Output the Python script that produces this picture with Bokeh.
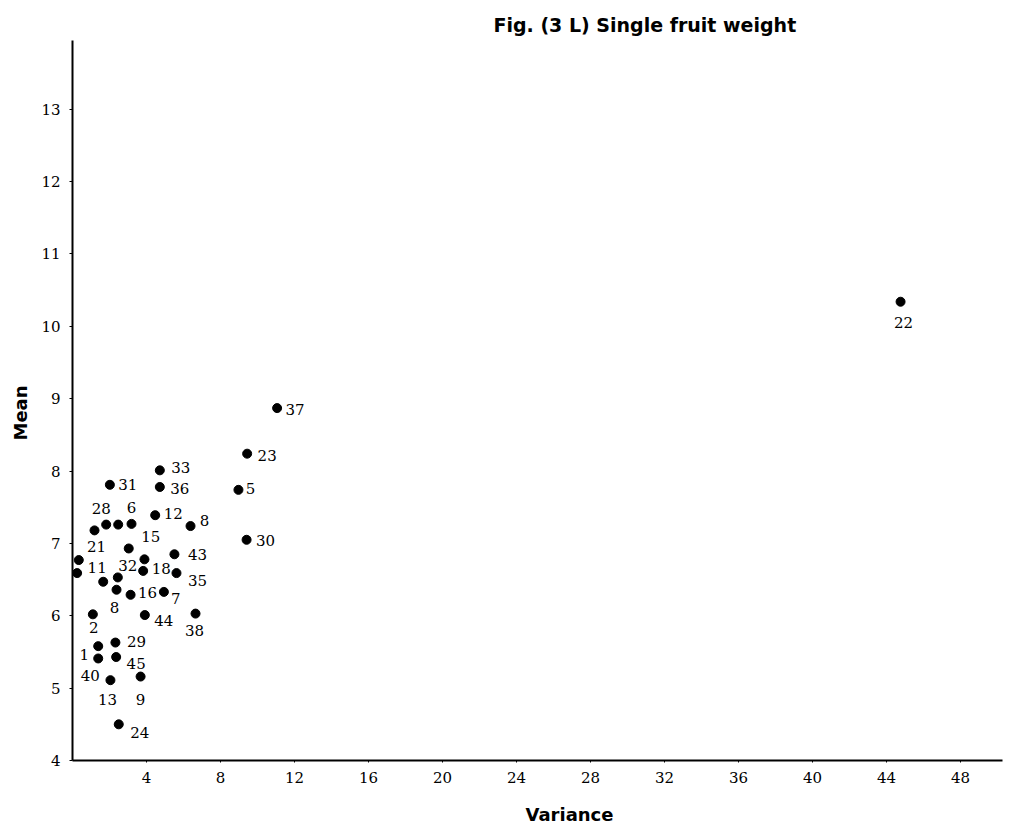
from bokeh.plotting import figure
from bokeh.models import ColumnDataSource, FixedTicker, Range1d, Title
from bokeh.embed import file_html
from bokeh.resources import INLINE
from bokeh.core.properties import value

# ---- data ----
genotype = ["37", "23", "33", "31", "36", "5", "12", "8", "6", "28", "", "21",
            "30", "15", "", "11", "", "43", "18", "35", "", "32", "8", "16",
            "7", "2", "44", "38", "29", "1", "40", "45", "13", "9", "24", "22"]
variance = [11.06, 9.44, 4.72, 2.02, 4.72, 8.97, 4.47, 6.38, 3.19, 1.82, 2.47, 1.19,
            9.41, 3.04, 0.34, 0.25, 3.89, 5.51, 3.82, 5.62, 1.66, 2.45, 2.38, 3.14,
            4.94, 1.10, 3.91, 6.65, 2.32, 1.39, 1.39, 2.36, 2.05, 3.68, 2.50, 44.76]
mean = [8.87, 8.24, 8.01, 7.81, 7.78, 7.74, 7.39, 7.24, 7.27, 7.26, 7.26, 7.18,
        7.05, 6.93, 6.77, 6.59, 6.78, 6.85, 6.62, 6.59, 6.47, 6.53, 6.36, 6.29,
        6.33, 6.02, 6.01, 6.03, 5.63, 5.58, 5.41, 5.43, 5.11, 5.16, 4.50, 10.34]
# label placement relative to each dot (pixels)
label_dx = [18, 20, 21, 18, 20, 12, 18, 14, 0, -5, 0, 2,
            19, 22, 0, 20, 0, 23, 18, 21, 0, 10, -2, 17,
            12, 1, 19, -1, 21, -14, -8, 20, -3, 0, 21, 3]
label_dy = [1, 2, -3, 0, 2, -1, -2, -6, -16, -16, 0, 16,
            1, -12, 0, -6, 0, 0, -2, 7, 0, -12, 18, -2,
            7, 13, 5, 17, -1, 8, 17, 6, 19, 23, 8, 21]

x_ticks = [4, 8, 12, 16, 20, 24, 28, 32, 36, 40, 44, 48]
y_ticks = [4, 5, 6, 7, 8, 9, 10, 11, 12, 13]

title_text = "Fig. (3 L)  Single fruit weight"
x_title = "Variance"
y_title = "Mean"

src = ColumnDataSource(dict(variance=variance, mean=mean, genotype=genotype,
                            dx=label_dx, dy=label_dy))

p = figure(width=1009, height=840, output_backend="svg", toolbar_location=None,
           x_range=Range1d(0, 50.27), y_range=Range1d(4.0, 13.95),
           min_border_left=72, min_border_right=7, min_border_top=40,
           min_border_bottom=80, background_fill_color="white",
           border_fill_color="white")
p.outline_line_color = None
p.grid.visible = False

p.scatter(x="variance", y="mean", size=9, color="black", source=src)
p.text(x="variance", y="mean", text="genotype", x_offset="dx", y_offset="dy",
       text_align="center", text_baseline="middle",
       text_font=value("DejaVu Serif"), text_font_size="15px",
       text_color="black", source=src)

p.xaxis.ticker = FixedTicker(ticks=x_ticks)
p.yaxis.ticker = FixedTicker(ticks=y_ticks)
for ax in (p.xaxis, p.yaxis):
    ax.axis_line_width = 2
    ax.axis_line_color = "black"
    ax.major_tick_line_color = "black"
    ax.minor_tick_line_color = None
    ax.major_label_text_font = "DejaVu Serif"
    ax.major_label_text_font_size = "15px"
    ax.major_label_text_color = "black"
p.xaxis.major_tick_out = 2
p.xaxis.major_tick_in = 0
p.xaxis.major_label_standoff = 9
p.yaxis.major_tick_out = 3
p.yaxis.major_tick_in = 0
p.yaxis.major_label_standoff = 9

p.title.text = title_text
p.title.align = "left"
p.title.offset = 421
p.title.text_font = "DejaVu Sans"
p.title.text_font_style = "bold"
p.title.text_font_size = "19px"
p.title.text_color = "black"

p.add_layout(Title(text=x_title, align="left", offset=453,
                   text_font="DejaVu Sans", text_font_style="bold",
                   text_font_size="18px", text_color="black", standoff=32), "below")
p.add_layout(Title(text=y_title, align="left", offset=320,
                   text_font="DejaVu Sans", text_font_style="bold",
                   text_font_size="18px", text_color="black", standoff=15), "left")

open("out.html", "w").write(file_html(p, INLINE))
